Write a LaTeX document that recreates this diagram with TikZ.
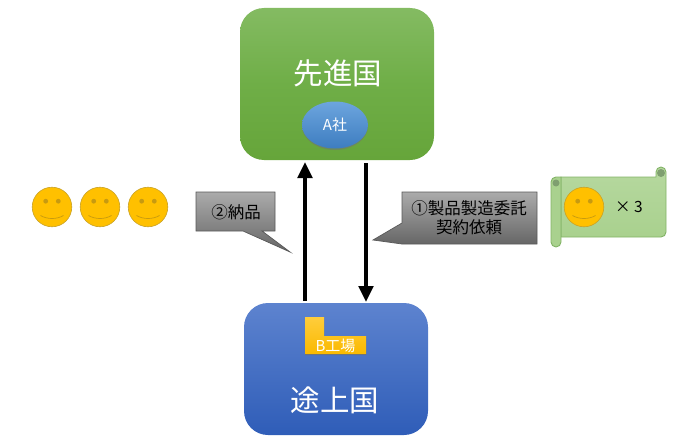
\documentclass[tikz,border=0pt]{standalone}
\usepackage{fontspec}
\setmainfont{Noto Sans CJK JP}
\usetikzlibrary{arrows.meta,shapes.geometric}
\definecolor{gTop}{HTML}{84BB62}
\definecolor{gMid}{HTML}{6FAE47}
\definecolor{gBot}{HTML}{66A53A}
\definecolor{bTop}{HTML}{5D83CF}
\definecolor{bBot}{HTML}{2F5DB8}
\definecolor{smile}{HTML}{FFC000}
\definecolor{smileLine}{HTML}{C9A227}
\definecolor{smileDark}{HTML}{C79A10}
\definecolor{aTop}{HTML}{6CA5DE}
\definecolor{aBot}{HTML}{3E7DC0}
\definecolor{fTop}{HTML}{FFCD3C}
\definecolor{fBot}{HTML}{FAB900}
\definecolor{sFill}{HTML}{A9D18E}
\definecolor{sLine}{HTML}{82B366}
\definecolor{sDark}{HTML}{7F9F70}
\tikzset{
  country/.style={draw=none,rounded corners=24pt,inner sep=0pt},
  bigtext/.style={text=white,font=\fontsize{29.5}{32}\selectfont,inner sep=0pt},
  flow/.style={line width=3.4pt,-{Triangle[length=16pt,width=14.5pt]}},
  callout/.style={draw=black!65,line width=0.7pt,top color=black!33,bottom color=black!60},
  calltext/.style={text=black,font=\fontsize{16.5}{20}\selectfont,align=center,inner sep=0pt},
  smiley/.pic={
    \fill[smile,draw=smileLine,line width=0.6pt] (0,0) circle (19.8pt);
    \fill[smileDark] (-6.3pt,5.8pt) circle (2.4pt) (6.3pt,5.8pt) circle (2.4pt);
    \draw[smileDark,line width=0.7pt] (-11.5pt,-8.5pt) .. controls (-5pt,-12.5pt) and (5pt,-12.5pt) .. (11.5pt,-8.5pt);
  }
}
\begin{document}
\begin{tikzpicture}[x=1pt,y=-1pt]
\useasboundingbox (0,0) rectangle (700,444);
% countries
\node[country,minimum width=194pt,minimum height=152pt,top color=gTop,bottom color=gBot,middle color=gMid] (dev) at (337,84) {};
\node[country,minimum width=184pt,minimum height=132pt,top color=bTop,bottom color=bBot] (emg) at (336,369) {};
\node[bigtext] (devt) at (338,73) {先進国};
\node[bigtext] (emgt) at (335,400) {途上国};
% company A
\fill[black!55,opacity=.55] (335,126) ellipse (33pt and 24pt);
\node[ellipse,minimum width=66pt,minimum height=47pt,inner sep=0pt,top color=aTop,bottom color=aBot,text=white,font=\fontsize{15}{17}\selectfont] (a) at (335,125) {A社};
% arrows
\coordinate (u1) at (305,301);
\coordinate (u2) at (305,162);
\coordinate (d1) at (366,163);
\coordinate (d2) at (366,302);
\draw[flow] (u1) -- (u2);
\draw[flow] (d1) -- (d2);
% factory
\fill[black!60,opacity=.6] (305,318) -- (324,318) -- (324,337) -- (366,337) -- (366,355) -- (305,355) -- cycle;
\shade[top color=fTop,bottom color=fBot] (305,317) -- (324,317) -- (324,336) -- (366,336) -- (366,354) -- (305,354) -- cycle;
\node[text=white,font=\fontsize{15}{17}\selectfont,inner sep=0pt] (b) at (335.5,345.5) {B工場};
% smileys
\pic at (52,207) {smiley};
\pic at (100,207) {smiley};
\pic at (148,207) {smiley};
% callouts
\path[callout] (196,192) -- (275,192) -- (275,231) -- (262,231) -- (290,252) -- (243,231) -- (196,231) -- cycle;
\node[calltext] (c2) at (236,212) {②納品};
\path[callout] (402,192) -- (537,192) -- (537,244) -- (402,244) -- (373,240) -- (402,223) -- cycle;
\node[calltext] (c1) at (469,218) {①製品製造委託\\[-1pt]契約依頼};
% scroll
\path[draw=sLine,line width=0.9pt,top color=sFill!85!white,bottom color=sFill] (561,177) -- (656,177) -- (656,172) arc[start angle=180,end angle=0,radius=5pt] -- (666,232) arc[start angle=0,end angle=-90,radius=5pt] -- (561,237) -- cycle;
\path[draw=sLine,line width=0.9pt,fill=sFill] (551,182) arc[start angle=180,end angle=90,radius=5pt] -- (561,177) -- (561,242) arc[start angle=0,end angle=-180,radius=5pt] -- cycle;
\fill[sDark] (556,183) circle (3.5pt);
\fill[sDark] (661,173) circle (4pt);
\pic at (584,207) {smiley};
\node[text=black,font=\fontsize{15.5}{17}\selectfont,inner sep=0pt] (x3) at (629,207) {× 3};
\end{tikzpicture}
\end{document}
